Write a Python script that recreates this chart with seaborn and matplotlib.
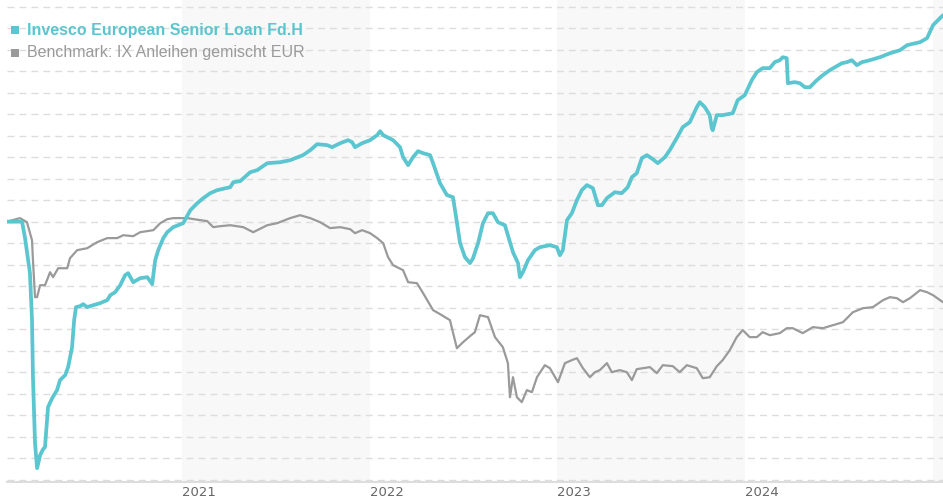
import numpy as np
import pandas as pd
import matplotlib
matplotlib.use("Agg")
import matplotlib.pyplot as plt
import seaborn as sns
from matplotlib.patches import Rectangle

# ---------------- data (decimal years, performance in %) ----------------
fund_name = "Invesco European Senior Loan Fd.H"
bench_name = "Benchmark: IX Anleihen gemischt EUR"

inv_t = [2020.068,2020.148,2020.164,2020.190,2020.201,2020.206,2020.217,2020.228,2020.244,2020.260,
         2020.270,2020.286,2020.308,2020.334,2020.350,2020.377,2020.393,2020.414,2020.425,2020.435,
         2020.457,2020.473,2020.494,2020.526,2020.563,2020.601,2020.617,2020.643,2020.670,2020.696,
         2020.712,2020.739,2020.776,2020.814,2020.840,2020.856,2020.872,2020.899,2020.920,2020.952,
         2021.005,2021.043,2021.080,2021.112,2021.149,2021.186,2021.256,2021.272,2021.309,2021.362,
         2021.399,2021.453,2021.522,2021.575,2021.644,2021.682,2021.719,2021.772,2021.799,2021.842,
         2021.884,2021.905,2021.921,2021.959,2022.001,2022.039,2022.055,2022.071,2022.124,2022.161,
         2022.177,2022.204,2022.230,2022.257,2022.284,2022.321,2022.337,2022.374,2022.411,2022.443,
         2022.454,2022.481,2022.507,2022.534,2022.550,2022.577,2022.603,2022.630,2022.656,2022.683,
         2022.720,2022.747,2022.763,2022.790,2022.800,2022.816,2022.843,2022.880,2022.907,2022.960,
         2022.997,2023.013,2023.029,2023.051,2023.077,2023.104,2023.130,2023.157,2023.189,2023.216,
         2023.237,2023.264,2023.306,2023.343,2023.375,2023.397,2023.423,2023.450,2023.477,2023.509,
         2023.535,2023.573,2023.599,2023.636,2023.668,2023.706,2023.743,2023.759,2023.786,2023.812,
         2023.823,2023.828,2023.850,2023.881,2023.935,2023.961,2023.999,2024.036,2024.063,2024.094,
         2024.132,2024.158,2024.185,2024.201,2024.222,2024.228,2024.265,2024.292,2024.318,2024.345,
         2024.382,2024.414,2024.451,2024.489,2024.515,2024.542,2024.568,2024.595,2024.622,2024.664,
         2024.718,2024.771,2024.824,2024.862,2024.931,2024.968,2025.000,2025.053]

inv_v = [0.0,0.0,-1.53,-4.79,-9.16,-14.47,-20.60,-22.93,-21.72,-21.16,
         -20.98,-17.26,-16.42,-15.67,-14.74,-14.28,-13.53,-11.67,-9.16,-7.95,
         -7.86,-7.67,-7.95,-7.77,-7.58,-7.30,-6.84,-6.56,-5.91,-4.98,
         -4.79,-5.63,-5.26,-5.16,-5.81,-3.58,-2.65,-1.53,-0.98,-0.51,
         -0.14,1.07,1.72,2.19,2.65,2.93,3.21,3.67,3.77,4.60,
         4.79,5.44,5.53,5.72,6.19,6.65,7.21,7.12,6.93,7.30,
         7.58,7.40,6.93,7.30,7.58,8.05,8.42,8.05,7.58,6.93,
         6.00,5.26,6.00,6.56,6.37,6.19,5.44,3.58,2.47,2.28,
         1.07,-2.00,-3.30,-3.86,-3.40,-2.00,-0.14,0.79,0.79,-0.05,
         -0.33,-1.91,-2.84,-3.86,-5.16,-4.70,-3.58,-2.65,-2.37,-2.19,
         -2.37,-3.12,-2.65,0.14,0.79,2.00,2.93,3.40,3.12,1.53,
         1.53,2.19,2.74,2.65,3.21,4.14,4.51,5.91,6.19,5.81,
         5.44,6.00,6.65,7.77,8.79,9.26,10.65,11.12,10.65,9.91,
         8.70,8.51,9.91,9.91,10.09,11.30,11.77,13.16,13.91,14.28,
         14.28,14.84,15.02,15.30,15.21,12.88,12.98,12.88,12.51,12.51,
         13.16,13.63,14.09,14.47,14.74,14.84,15.02,14.56,14.84,15.02,
         15.30,15.67,15.95,16.42,16.70,17.07,18.28,19.21]

bm_t = [2020.068,2020.137,2020.174,2020.201,2020.206,2020.217,2020.228,2020.244,2020.270,2020.297,
        2020.313,2020.340,2020.388,2020.403,2020.441,2020.494,2020.547,2020.601,2020.654,2020.686,
        2020.739,2020.776,2020.814,2020.846,2020.883,2020.920,2020.952,2021.027,2021.096,2021.133,
        2021.165,2021.202,2021.256,2021.325,2021.378,2021.453,2021.506,2021.575,2021.628,2021.682,
        2021.735,2021.788,2021.842,2021.895,2021.921,2021.959,2022.001,2022.039,2022.071,2022.097,
        2022.124,2022.177,2022.204,2022.251,2022.284,2022.337,2022.374,2022.427,2022.464,2022.497,
        2022.534,2022.560,2022.587,2022.630,2022.667,2022.709,2022.736,2022.747,2022.763,2022.784,
        2022.810,2022.837,2022.864,2022.891,2022.933,2022.960,2023.003,2023.040,2023.077,2023.104,
        2023.136,2023.173,2023.200,2023.226,2023.264,2023.290,2023.333,2023.370,2023.397,2023.423,
        2023.493,2023.530,2023.562,2023.615,2023.652,2023.690,2023.743,2023.775,2023.812,2023.850,
        2023.881,2023.919,2023.956,2023.988,2024.025,2024.063,2024.094,2024.132,2024.185,2024.222,
        2024.254,2024.307,2024.361,2024.414,2024.467,2024.521,2024.574,2024.627,2024.680,2024.734,
        2024.771,2024.808,2024.840,2024.877,2024.931,2024.968,2025.000,2025.053]

bm_v = [0.0,0.33,-0.05,-1.72,-3.58,-7.02,-7.02,-5.91,-5.91,-4.70,
        -5.16,-4.33,-4.33,-3.40,-2.65,-2.47,-1.91,-1.53,-1.53,-1.26,
        -1.35,-0.98,-0.88,-0.79,-0.14,0.23,0.33,0.33,0.14,0.05,
        -0.51,-0.42,-0.33,-0.51,-0.98,-0.33,-0.14,0.33,0.60,0.33,
        -0.05,-0.60,-0.51,-0.70,-1.07,-0.79,-1.07,-1.53,-2.00,-3.30,
        -4.05,-4.51,-5.63,-5.72,-6.65,-8.23,-8.60,-9.16,-11.77,-11.21,
        -10.65,-10.28,-8.70,-8.88,-10.74,-11.67,-13.16,-16.33,-14.47,-16.33,
        -16.79,-15.67,-15.86,-14.47,-13.35,-13.63,-14.93,-13.16,-12.88,-12.70,
        -13.63,-14.47,-14.00,-13.81,-13.16,-14.00,-13.81,-14.00,-14.74,-13.72,
        -13.53,-14.09,-13.35,-13.44,-14.00,-13.35,-13.63,-14.56,-14.47,-13.44,
        -12.88,-11.95,-10.74,-10.09,-10.74,-10.74,-10.28,-10.56,-10.37,-9.91,
        -9.91,-10.37,-9.81,-9.91,-9.63,-9.35,-8.42,-8.05,-7.95,-7.30,
        -7.02,-7.12,-7.49,-7.12,-6.37,-6.56,-6.84,-7.49]

year_labels = ["2021", "2022", "2023", "2024"]
shaded_years = [2021, 2023, 2025]
grid_values = list(range(-24, 21, 2))

# ---------------- helpers ----------------
def to_date(t):
    y = int(np.floor(t))
    start = pd.Timestamp(year=y, month=1, day=1)
    end = pd.Timestamp(year=y + 1, month=1, day=1)
    return start + (end - start) * (t - y)

inv_df = pd.DataFrame({"date": [to_date(t) for t in inv_t], "value": inv_v})
bm_df = pd.DataFrame({"date": [to_date(t) for t in bm_t], "value": bm_v})

# ---------------- style ----------------
sns.set_style("white")
plt.rcParams["font.family"] = ["DejaVu Sans"]

TEAL = "#5bc6cf"
GREY = "#9a9a9a"

W, H = 943, 500
fig = plt.figure(figsize=(W / 100, H / 100), dpi=100)
ax = fig.add_axes([7 / W, 18.5 / H, 936 / W, 481.5 / H])

# alternating year bands
xmin, xmax = to_date(inv_t[0]), to_date(inv_t[-1])
for y in shaded_years:
    ax.axvspan(pd.Timestamp(year=y, month=1, day=1),
               min(pd.Timestamp(year=y + 1, month=1, day=1), xmax + pd.Timedelta(days=30)),
               color="#f8f8f8", zorder=0, lw=0)

# lines
sns.lineplot(data=bm_df, x="date", y="value", ax=ax, color=GREY, lw=1.6,
             estimator=None, sort=False, zorder=3)
sns.lineplot(data=inv_df, x="date", y="value", ax=ax, color=TEAL, lw=2.7,
             estimator=None, sort=False, zorder=4)

ax.set_xlim(xmin, xmax)
ax.set_ylim(-24.17, 20.62)

# grid
ax.set_yticks(grid_values)
ax.set_yticklabels([])
ax.tick_params(axis="y", length=0)
ax.set_axisbelow(True)
ax.yaxis.grid(True, color="#dddddd", lw=1.0, linestyle=(0, (5, 3.6)))
ax.xaxis.grid(False)

# x ticks
ax.set_xticks([pd.Timestamp(year=int(l), month=1, day=1) for l in year_labels])
ax.set_xticklabels(year_labels, fontsize=9.5, color="#666666")
for lab in ax.get_xticklabels():
    lab.set_horizontalalignment("left")
ax.tick_params(axis="x", length=0, pad=3)

ax.set_xlabel("")
ax.set_ylabel("")
for s in ["top", "left", "right"]:
    ax.spines[s].set_visible(False)
ax.spines["bottom"].set_color("#dddddd")
ax.spines["bottom"].set_linewidth(1.5)

# legend (manual)
fig.add_artist(Rectangle((11 / W, 1 - 34 / H), 8 / W, 8 / H, transform=fig.transFigure,
                         color=TEAL, lw=0))
fig.add_artist(Rectangle((11 / W, 1 - 57 / H), 8 / W, 8 / H, transform=fig.transFigure,
                         color=GREY, lw=0))
fig.text(27 / W, 1 - 30 / H, fund_name, ha="left", va="center", fontsize=11.5,
         fontweight="bold", color=TEAL, family=["Liberation Sans", "DejaVu Sans"])
fig.text(27 / W, 1 - 53 / H, bench_name, ha="left", va="center", fontsize=11.5,
         color=GREY, family=["Liberation Sans", "DejaVu Sans"])

fig.save_path = None
fig.savefig("out.png", dpi=100)
